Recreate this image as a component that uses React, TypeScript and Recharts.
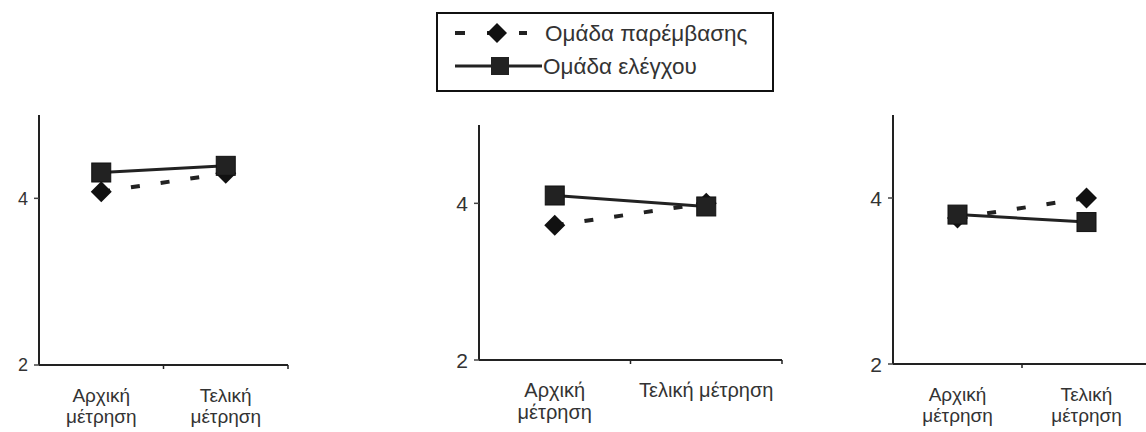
import React from 'react';
import { LineChart, Line, XAxis, YAxis } from 'recharts';

const seriesNames = ['Ομάδα παρέμβασης', 'Ομάδα ελέγχου'];
const categories = ['Αρχική μέτρηση', 'Τελική μέτρηση'];
const yTicks = [2, 4];
const yDomain = [2, 5];

const panel1Intervention = [4.08, 4.3];
const panel1Control = [4.31, 4.39];
const panel2Intervention = [3.72, 4.0];
const panel2Control = [4.1, 3.96];
const panel3Intervention = [3.76, 4.0];
const panel3Control = [3.8, 3.71];

const panel1Labels = [['Αρχική', 'μέτρηση'], ['Τελική', 'μέτρηση']];
const panel2Labels = [['Αρχική', 'μέτρηση'], ['Τελική μέτρηση']];
const panel3Labels = [['Αρχική', 'μέτρηση'], ['Τελική', 'μέτρηση']];

const FONT = '"Liberation Sans", Arial, sans-serif';
const TEXT = '#333';

const buildData = (a: number[], b: number[]) =>
  categories.map((c, i) => ({ cat: c, intervention: a[i], control: b[i] }));

const Diamond = (props: any) => {
  const { cx, cy } = props;
  if (cx == null || cy == null) return null;
  const r = 10.5;
  return <path d={`M${cx},${cy - r}L${cx + r},${cy}L${cx},${cy + r}L${cx - r},${cy}Z`} fill="#111" />;
};
const Square = (props: any) => {
  const { cx, cy } = props;
  if (cx == null || cy == null) return null;
  const s = 9.5;
  return <rect x={cx - s} y={cy - s} width={s * 2} height={s * 2} fill="#222" stroke="#111" strokeWidth={1} />;
};

const makeXTick = (labels: string[][], fontSize: number) => (props: any) => {
  const { x, y, payload, index } = props;
  const lines = labels[index] || [String(payload.value)];
  const half = payload.offset || 0;
  return (
    <g>
      <line x1={x + half} y1={y - 8} x2={x + half} y2={y - 4} stroke="#222" strokeWidth={1.5} />
      <text x={x} y={y + 29} textAnchor="middle" fontSize={fontSize} fill={TEXT} fontFamily={FONT}>
        {lines.map((l, i) => (
          <tspan key={i} x={x} dy={i === 0 ? 0 : Math.round(fontSize * 1.12)}>{l}</tspan>
        ))}
      </text>
    </g>
  );
};

const makeYTick = (fontSize: number) => (props: any) => {
  const { x, y, payload } = props;
  return (
    <text x={x - 4} y={y + fontSize * 0.36} textAnchor="end" fontSize={fontSize} fill={TEXT} fontFamily={FONT}>
      {payload.value}
    </text>
  );
};

const Panel = ({ data, labels, left, top, width, height, yWidth, margin, xFont, yFont }: any) => (
  <div style={{ position: 'absolute', left, top }}>
    <LineChart width={width} height={height} data={data} margin={margin}>
      <XAxis
        dataKey="cat"
        scale="band"
        tickLine={false}
        axisLine={{ stroke: '#222', strokeWidth: 2 }}
        tick={makeXTick(labels, xFont)}
        height={60}
        interval={0}
      />
      <YAxis
        domain={yDomain}
        ticks={yTicks}
        width={yWidth}
        axisLine={{ stroke: '#222', strokeWidth: 2 }}
        tickLine={{ stroke: '#444', strokeWidth: 1.5 }}
        tickSize={5}
        tick={makeYTick(yFont)}
      />
      <Line
        dataKey="intervention"
        name={seriesNames[0]}
        stroke="#222"
        strokeWidth={4}
        strokeDasharray="9 21"
        dot={<Diamond />}
        isAnimationActive={false}
      />
      <Line
        dataKey="control"
        name={seriesNames[1]}
        stroke="#222"
        strokeWidth={3}
        dot={<Square />}
        isAnimationActive={false}
      />
    </LineChart>
  </div>
);

const LegendBox = () => (
  <svg style={{ position: 'absolute', left: 430, top: 8 }} width={350} height={90}>
    <rect x={7} y={5} width={336} height={78} fill="#fff" stroke="#111" strokeWidth={2} />
    <g>
      <line x1={25} y1={25} x2={97} y2={25} stroke="#222" strokeWidth={4} strokeDasharray="10 22" />
      <path d="M67,15L77,25L67,35L57,25Z" fill="#111" />
      <text x={115} y={33} fontSize={22.5} fill={TEXT} fontFamily={FONT}>{seriesNames[0]}</text>
    </g>
    <g>
      <line x1={25} y1={58} x2={112} y2={58} stroke="#222" strokeWidth={3} />
      <rect x={61} y={49} width={18} height={18} fill="#222" />
      <text x={113} y={66} fontSize={22.5} fill={TEXT} fontFamily={FONT}>{seriesNames[1]}</text>
    </g>
  </svg>
);

export default function App() {
  return (
    <div style={{ position: 'absolute', left: 0, top: 0, width: 1146, height: 432, overflow: 'hidden', background: '#fff' }}>
      <LegendBox />
      <Panel
        data={buildData(panel1Intervention, panel1Control)}
        labels={panel1Labels}
        left={0} top={100} width={300} height={332}
        yWidth={39}
        margin={{ top: 15, right: 12, bottom: 7, left: 0 }}
        xFont={19} yFont={18}
      />
      <Panel
        data={buildData(panel2Intervention, panel2Control)}
        labels={panel2Labels}
        left={390} top={110} width={400} height={322}
        yWidth={89}
        margin={{ top: 15, right: 8, bottom: 12, left: 0 }}
        xFont={20} yFont={21}
      />
      <Panel
        data={buildData(panel3Intervention, panel3Control)}
        labels={panel3Labels}
        left={820} top={100} width={340} height={332}
        yWidth={73}
        margin={{ top: 15, right: 9, bottom: 8, left: 0 }}
        xFont={19} yFont={21}
      />
    </div>
  );
}
